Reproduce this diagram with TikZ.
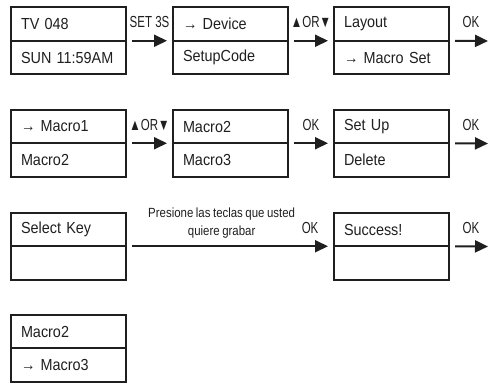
\documentclass[tikz,border=0pt]{standalone}
\usepackage{fontspec}
\setmainfont{Liberation Sans}[FakeStretch=0.9, WordSpace=0.75]
\newfontfamily\keyfont{Liberation Sans}[FakeStretch=0.72]
\newfontfamily\hintfont{Liberation Sans}[FakeStretch=0.86, WordSpace=0.8]
\usetikzlibrary{arrows.meta,positioning}
\definecolor{lcdink}{rgb}{0.12, 0.12, 0.12}
\tikzset{half/.style={draw=lcdink, line width=2pt, outer sep=0pt, minimum width=115pt, minimum height=33.5pt,
    text width=95pt, inner xsep=10pt, align=left, text=lcdink, font=\fontsize{16}{16}\selectfont}}
\tikzset{press/.style={line width=2pt, draw=lcdink, -{Triangle[length=13pt, width=12pt]},
    shorten <=6pt, shorten >=6pt}}
\tikzset{keylbl/.style={above=12pt, inner sep=0pt, text=lcdink, font=\keyfont\fontsize{16}{16}\selectfont}}

\begin{document}
\begin{tikzpicture}[x=1pt, y=-1pt]
    \useasboundingbox (0,0) rectangle (489,383);

    % row 1
    \node[half] (tv) at (68.5, 24) {TV 048};
    \node[half, below=0pt of tv] (sun) {SUN 11:59AM};
    \node[half] (dev) at (230.5, 24) {→ Device};
    \node[half, below=0pt of dev] (code) {SetupCode};
    \node[half] (lay) at (391.5, 24) {Layout};
    \node[half, below=0pt of lay] (mset) {→ Macro Set};
    \coordinate (rim1) at (489, 41);

    \draw [press] (tv.south east) -- (dev.south west) node[midway, keylbl] {SET 3S};
    \draw [press] (dev.south east) -- (lay.south west) node[midway, keylbl] {▲OR▼};
    \draw [press, shorten >=1pt] (lay.south east) -- (rim1) node[pos=0.55, keylbl] {OK};

    % row 2
    \node[half] (ma) at (68.5, 126.5) {→ Macro1};
    \node[half, below=0pt of ma] (mb) {Macro2};
    \node[half] (mc) at (230.5, 126.5) {Macro2};
    \node[half, below=0pt of mc] (md) {Macro3};
    \node[half] (setup) at (391.5, 126.5) {Set Up};
    \node[half, below=0pt of setup] (del) {Delete};
    \coordinate (rim2) at (489, 143.5);

    \draw [press] (ma.south east) -- (mc.south west) node[midway, keylbl] {▲OR▼};
    \draw [press] (mc.south east) -- (setup.south west) node[midway, keylbl] {OK};
    \draw [press, shorten >=1pt] (setup.south east) -- (rim2) node[pos=0.55, keylbl] {OK};

    % row 3
    \node[half] (sel) at (68.5, 229.5) {Select Key};
    \node[half, below=0pt of sel] (selb) {};
    \node[half] (suc) at (391.5, 229.5) {Success!};
    \node[half, below=0pt of suc] (sucb) {};
    \coordinate (rim3) at (489, 246.5);

    \draw [press] (sel.south east) -- (suc.south west)
        node[pos=0.46, above=7pt, inner sep=0pt, align=center, text=lcdink,
             font=\hintfont\fontsize{13.3}{18}\selectfont] (hint) {Presione las teclas que usted\\quiere grabar}
        node[pos=0.885, keylbl] {OK};
    \draw [press, shorten >=1pt] (suc.south east) -- (rim3) node[pos=0.55, keylbl] {OK};

    % row 4
    \node[half] (me) at (68.5, 331.5) {Macro2};
    \node[half, below=0pt of me] (mf) {→ Macro3};
\end{tikzpicture}
\end{document}
